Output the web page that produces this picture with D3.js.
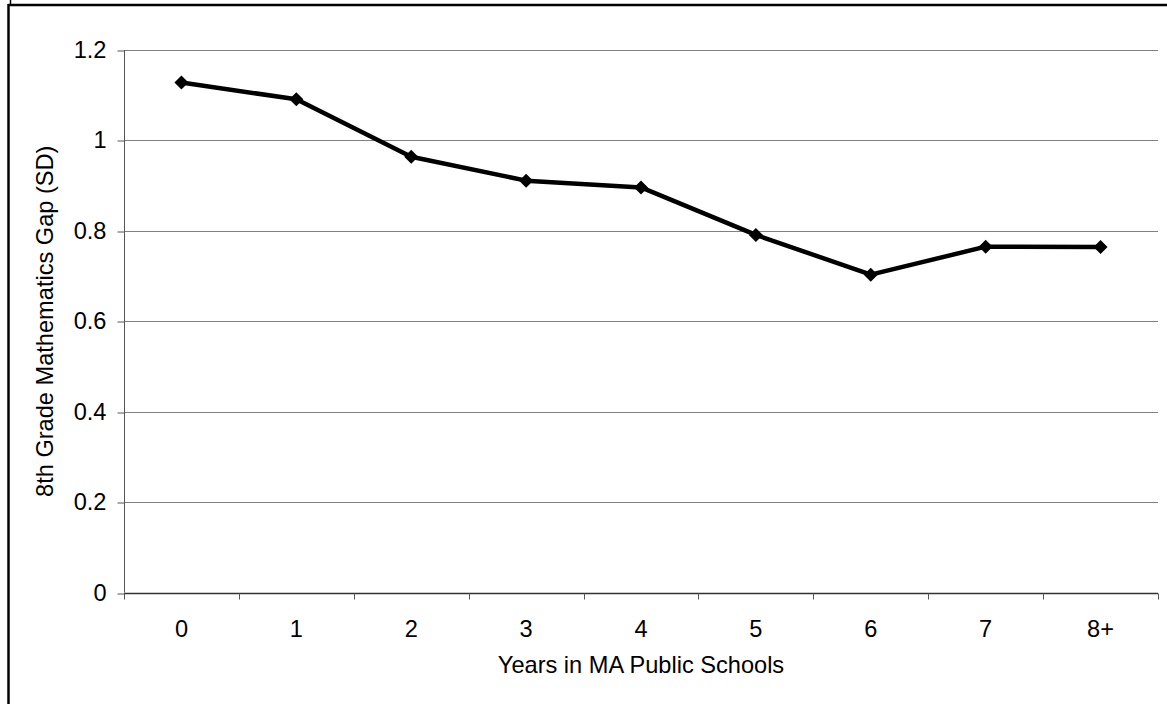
<!DOCTYPE html>
<html>
<head>
<meta charset="utf-8">
<script src="https://cdn.jsdelivr.net/npm/d3@7"></script>
<style>
  html, body { margin: 0; padding: 0; background: #fff; }
  svg text { font-family: "Liberation Sans", Arial, sans-serif; fill: #000; }
</style>
</head>
<body>
<svg id="chart" width="1167" height="704"></svg>
<script>
// Years spent in Massachusetts public schools
const categories = ["0", "1", "2", "3", "4", "5", "6", "7", "8+"];
// 8th grade mathematics achievement gap, in standard deviations
const gapValues = [1.128, 1.091, 0.964, 0.911, 0.896, 0.791, 0.703, 0.765, 0.764];
const yTicks = [0, 0.2, 0.4, 0.6, 0.8, 1, 1.2];

const FONT = 23.6;
const svg = d3.select("#chart");
const W = 1167, H = 704;
const plot = { left: 124, right: 1158, top: 50, bottom: 592.5 };

// Outer frame (top and left edges)
svg.append("line").attr("x1", 8.5).attr("x2", W).attr("y1", 5).attr("y2", 5)
  .attr("stroke", "#000").attr("stroke-width", 2.5);
svg.append("line").attr("x1", 8.5).attr("x2", 8.5).attr("y1", 4).attr("y2", H)
  .attr("stroke", "#000").attr("stroke-width", 2.5);
svg.append("line").attr("x1", 10.5).attr("x2", 10.5).attr("y1", 0).attr("y2", 4)
  .attr("stroke", "#000").attr("stroke-width", 1.5);

const x = d3.scaleBand().domain(categories).range([plot.left, plot.right]).padding(0);
const y = d3.scaleLinear().domain([0, 1.2]).range([plot.bottom, plot.top]);

// Horizontal gridlines
svg.append("g").selectAll("line").data(yTicks.filter(d => d > 0)).join("line")
  .attr("x1", plot.left).attr("x2", plot.right)
  .attr("y1", d => Math.round(y(d)) + 0.5).attr("y2", d => Math.round(y(d)) + 0.5)
  .attr("stroke", "#808080").attr("stroke-width", 1);

// Y axis
const yAxis = svg.append("g")
  .attr("transform", `translate(${plot.left + 0.5},0)`)
  .call(d3.axisLeft(y).tickValues(yTicks).tickSize(7).tickPadding(11)
    .tickFormat(d => d3.format("")(d)));
yAxis.attr("font-size", null).attr("font-family", null);
yAxis.select(".domain").attr("stroke", "#555").attr("d", `M0,${plot.top}V${plot.bottom}`);
yAxis.selectAll(".tick line").attr("stroke", "#555")
  .attr("transform", d => `translate(0,${Math.round(y(d)) + 0.5 - y(d)})`);
yAxis.selectAll(".tick text").attr("font-size", FONT);

// X axis with ticks at category boundaries
const xAxisG = svg.append("g").attr("transform", `translate(0,${Math.round(plot.bottom) + 0.5})`);
xAxisG.append("line").attr("x1", plot.left).attr("x2", plot.right)
  .attr("stroke", "#333").attr("stroke-width", 1.3);
const boundaries = categories.map(c => x(c)).concat([x(categories[categories.length - 1]) + x.bandwidth()]);
xAxisG.selectAll("line.tk").data(boundaries).join("line").attr("class", "tk")
  .attr("x1", d => Math.round(d) + 0.5).attr("x2", d => Math.round(d) + 0.5)
  .attr("y1", 0).attr("y2", 6).attr("stroke", "#555");
xAxisG.selectAll("text").data(categories).join("text")
  .attr("x", d => x(d) + x.bandwidth() / 2).attr("y", 43.5)
  .attr("text-anchor", "middle").attr("font-size", FONT).text(d => d);

// Axis titles
svg.append("text")
  .attr("x", (plot.left + plot.right) / 2).attr("y", 673)
  .attr("text-anchor", "middle").attr("font-size", FONT)
  .text("Years in MA Public Schools");
svg.append("text")
  .attr("transform", `translate(53,${(plot.top + plot.bottom) / 2}) rotate(-90)`)
  .attr("text-anchor", "middle").attr("font-size", FONT)
  .text("8th Grade Mathematics Gap (SD)");

// Series line
const cx = d => x(d) + x.bandwidth() / 2;
const line = d3.line().x((d, i) => cx(categories[i])).y(d => y(d));
svg.append("path").datum(gapValues)
  .attr("d", line).attr("fill", "none")
  .attr("stroke", "#000").attr("stroke-width", 4.5).attr("stroke-linejoin", "round");

// Diamond markers
svg.append("g").selectAll("path").data(gapValues).join("path")
  .attr("d", "M0,-7L7,0L0,7L-7,0Z")
  .attr("transform", (d, i) => `translate(${cx(categories[i])},${y(d)})`)
  .attr("fill", "#000");
</script>
</body>
</html>
